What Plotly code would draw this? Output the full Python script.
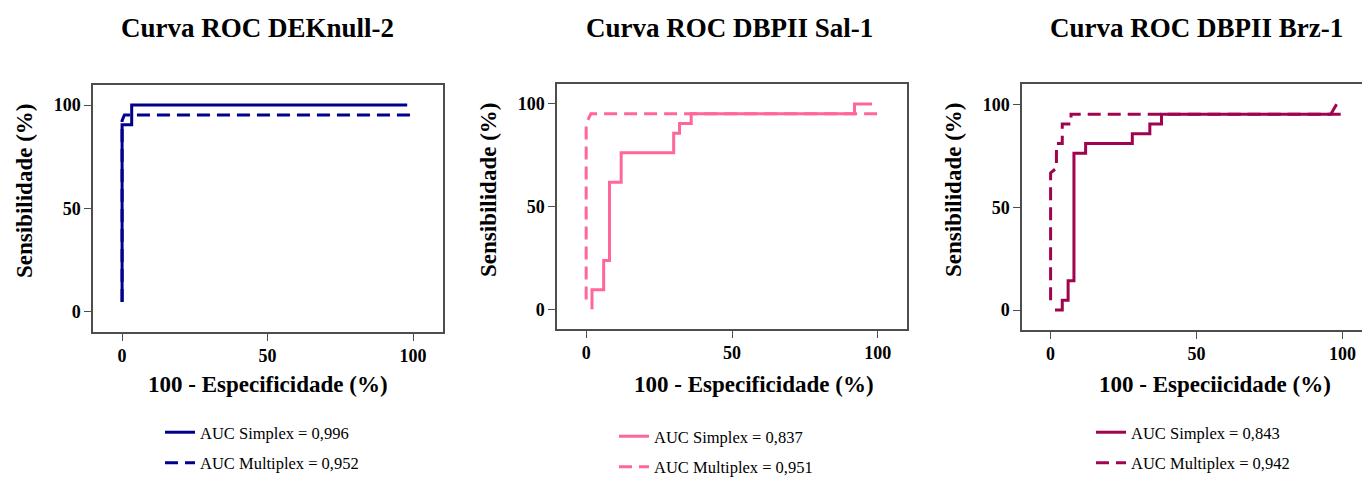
import plotly.graph_objects as go

W, H = 1362, 479

# ---------------- data ----------------
titles = ["Curva ROC DEKnull-2", "Curva ROC DBPII Sal-1", "Curva ROC DBPII Brz-1"]
x_titles = ["100 - Especificidade (%)", "100 - Especificidade (%)", "100 - Especiicidade (%)"]
y_title = "Sensibilidade (%)"
tick_vals = [0, 50, 100]
tick_text = ["0", "50", "100"]

deknull_simplex_x = [0, 0, 3.3, 3.3, 98]
deknull_simplex_y = [4.8, 90.5, 90.5, 100, 100]
deknull_multiplex_x = [0, 0, 0.8, 100]
deknull_multiplex_y = [4.8, 92.5, 95.2, 95.2]

sal_simplex_x = [2, 2, 6, 6, 8, 8, 12, 12, 30, 30, 32, 32, 36, 36, 92, 92, 98]
sal_simplex_y = [0, 9.5, 9.5, 23.8, 23.8, 61.9, 61.9, 76.2, 76.2, 85.7, 85.7, 90.5, 90.5, 95.2, 95.2, 100, 100]
sal_multiplex_x = [0, 0, 1.6, 100]
sal_multiplex_y = [4.8, 90.5, 95.2, 95.2]

brz_simplex_x = [1.5, 4, 4, 6, 6, 8, 8, 12, 12, 28, 28, 34, 34, 38, 38, 96, 98]
brz_simplex_y = [0, 0, 4.8, 4.8, 14.3, 14.3, 76.2, 76.2, 81, 81, 85.7, 85.7, 90.5, 90.5, 95.2, 95.2, 100]
brz_multiplex_x = [0, 0, 2, 2, 4, 4, 7, 7, 100]
brz_multiplex_y = [4.8, 66.7, 69, 81, 81, 90.5, 90.5, 95.2, 95.2]

legend_simplex = ["AUC Simplex = 0,996", "AUC Simplex = 0,837", "AUC Simplex = 0,843"]
legend_multiplex = ["AUC Multiplex = 0,952", "AUC Multiplex = 0,951", "AUC Multiplex = 0,942"]

colors = ["#00008B", "#FF6699", "#A0044F"]

# ---------------- layout helpers ----------------
FONT = "Liberation Serif, Times New Roman, serif"

def px(x):
    return x / W

def py(y):
    return 1 - y / H

# panel boxes in pixels: (left, right, top, bottom)
boxes = [(93, 443, 85, 332), (557, 907, 84, 329), (1022, 1362, 84, 330)]
xranges = [[-10, 110.3], [-10, 110], [-9.8, 106.7]]
yranges = [[-9.7, 109.7], [-9.6, 109.7], [-9.7, 109.9]]
title_pos = [(257, 28), (730, 28), (1196, 28)]
xtitle_pos = [(268, 384), (754, 384), (1215, 384)]
ytitle_pos = [(25, 191), (489, 190), (954, 190)]
legend_pos = [(160, 415), (614, 419), (1091, 415)]

series = [
    (deknull_simplex_x, deknull_simplex_y, deknull_multiplex_x, deknull_multiplex_y),
    (sal_simplex_x, sal_simplex_y, sal_multiplex_x, sal_multiplex_y),
    (brz_simplex_x, brz_simplex_y, brz_multiplex_x, brz_multiplex_y),
]

fig = go.Figure()
layout = dict(
    width=W, height=H, autosize=False,
    margin=dict(l=0, r=0, t=0, b=0, autoexpand=False),
    paper_bgcolor="white", plot_bgcolor="white",
    font=dict(family=FONT, color="black"),
    showlegend=True,
)
annotations = []

for i in range(3):
    sfx = "" if i == 0 else str(i + 1)
    xa, ya = "x" + sfx, "y" + sfx
    leg = "legend" + sfx
    sx, sy, mx, my = series[i]
    fig.add_trace(go.Scatter(
        x=sx, y=sy, mode="lines", name=legend_simplex[i],
        line=dict(color=colors[i], width=3, shape="linear"),
        xaxis=xa, yaxis=ya, legend=leg, legendgroup="s%d" % i,
    ))
    fig.add_trace(go.Scatter(
        x=mx, y=my, mode="lines", name=legend_multiplex[i],
        line=dict(color=colors[i], width=3, dash="13px,7px"),
        xaxis=xa, yaxis=ya, legend=leg, legendgroup="m%d" % i,
    ))
    l, r, t, b = boxes[i]
    layout["xaxis" + sfx] = dict(
        domain=[px(l), px(r)], range=xranges[i], anchor=ya,
        showgrid=False, zeroline=False, showline=True, mirror=True,
        linecolor="#4d4d4d", linewidth=1.5,
        ticks="outside", ticklen=7, tickwidth=1.2, tickcolor="#4d4d4d",
        tickvals=tick_vals, ticktext=tick_text,
        tickfont=dict(family=FONT, size=18, color="black", weight="bold"),
    )
    layout["yaxis" + sfx] = dict(
        domain=[py(b), py(t)], range=yranges[i], anchor=xa,
        showgrid=False, zeroline=False, showline=True,
        mirror=(True if i < 2 else False),
        linecolor="#4d4d4d", linewidth=1.5,
        ticks="outside", ticklen=7, tickwidth=1.2, tickcolor="#4d4d4d",
        tickvals=tick_vals, ticktext=tick_text,
        tickfont=dict(family=FONT, size=18, color="black", weight="bold"),
    )
    lx, ly = legend_pos[i]
    layout[leg] = dict(
        x=px(lx), y=py(ly), xanchor="left", yanchor="top",
        xref="paper", yref="paper",
        bgcolor="rgba(0,0,0,0)", borderwidth=0,
        font=dict(family=FONT, size=16.5, color="black"),
        traceorder="grouped", tracegroupgap=6,
    )
    tx, ty = title_pos[i]
    annotations.append(dict(
        text="<b>%s</b>" % titles[i], x=px(tx), y=py(ty), xref="paper", yref="paper",
        xanchor="center", yanchor="middle", showarrow=False,
        font=dict(family=FONT, size=27, color="black"),
    ))
    tx, ty = xtitle_pos[i]
    annotations.append(dict(
        text="<b>%s</b>" % x_titles[i], x=px(tx), y=py(ty), xref="paper", yref="paper",
        xanchor="center", yanchor="middle", showarrow=False,
        font=dict(family=FONT, size=23, color="black"),
    ))
    tx, ty = ytitle_pos[i]
    annotations.append(dict(
        text="<b>%s</b>" % y_title, x=px(tx), y=py(ty), xref="paper", yref="paper",
        xanchor="center", yanchor="middle", showarrow=False, textangle=-90,
        font=dict(family=FONT, size=23, color="black"),
    ))

layout["annotations"] = annotations
fig.update_layout(**layout)
fig.write_html(
    "out.html",
    config={"displayModeBar": False},
    post_script="document.body.style.margin='0';document.body.style.overflow='hidden';",
)
